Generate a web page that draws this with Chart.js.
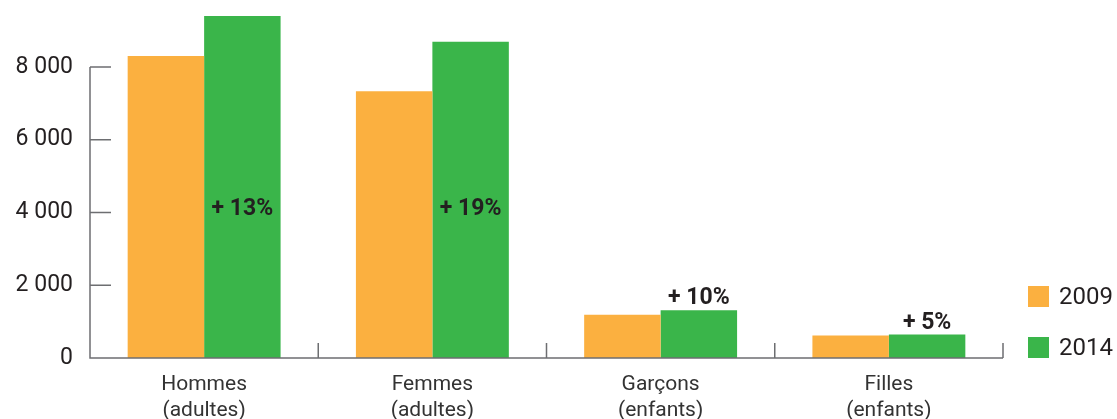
<!DOCTYPE html>
<html>
<head>
<meta charset="utf-8">
<script src="https://cdn.jsdelivr.net/npm/chart.js@4"></script>
<style>
  html, body { margin: 0; padding: 0; background: #fff; }
  #wrap { width: 1117px; height: 419px; }
</style>
</head>
<body>
<div id="wrap"><canvas id="myChart"></canvas></div>
<script>
var categories = [["Hommes", "(adultes)"], ["Femmes", "(adultes)"], ["Garçons", "(enfants)"], ["Filles", "(enfants)"]];
var years = ["2009", "2014"];
var v2009 = [8300, 7330, 1190, 615];
var v2014 = [9400, 8690, 1310, 645];
var changes = ["+ 13%", "+ 19%", "+ 10%", "+ 5%"];
var yTicks = [0, 2000, 4000, 6000, 8000];

var orange = "#fbb040";
var green = "#3ab54a";
var axisGrey = "#6d6e71";
var ink = "#231f20";

// axis lines with inward ticks, boundary ticks on x
var axesPlugin = {
  id: "axes",
  afterDatasetsDraw: function (chart) {
    var c = chart.ctx, x = chart.scales.x, y = chart.scales.y;
    var left = chart.chartArea.left, right = chart.chartArea.right;
    var y0 = y.getPixelForValue(0);
    var step = x.getPixelForValue(1) - x.getPixelForValue(0);
    c.save();
    c.strokeStyle = axisGrey;
    c.lineWidth = 1.5;
    c.beginPath();
    c.moveTo(left, y.getPixelForValue(8000));
    c.lineTo(left, y0);
    c.lineTo(right, y0);
    yTicks.forEach(function (t) {
      var p = y.getPixelForValue(t);
      c.moveTo(left, p);
      c.lineTo(left + 21, p);
    });
    for (var i = 0; i < categories.length; i++) {
      var bx = x.getPixelForValue(i) + step / 2;
      c.moveTo(bx, y0);
      c.lineTo(bx, y0 - 15);
    }
    c.stroke();
    c.restore();
  }
};

// percentage change over the 2014 bars
var changePlugin = {
  id: "changes",
  afterDatasetsDraw: function (chart) {
    var c = chart.ctx, y = chart.scales.y;
    var meta = chart.getDatasetMeta(1);
    c.save();
    c.font = "bold 23px Roboto";
    c.fillStyle = ink;
    c.textAlign = "center";
    meta.data.forEach(function (bar, i) {
      if (v2014[i] > 4000) {
        c.textBaseline = "middle";
        c.fillText(changes[i], bar.x, y.getPixelForValue(4100));
      } else {
        c.textBaseline = "alphabetic";
        c.fillText(changes[i], bar.x, bar.y - 6);
      }
    });
    c.restore();
  }
};

// legend squares, bottom right
var legendPlugin = {
  id: "sideLegend",
  afterDraw: function (chart) {
    var c = chart.ctx;
    var colors = [orange, green];
    var rows = [297, 348];
    c.save();
    c.font = "24px Roboto";
    c.textBaseline = "middle";
    c.textAlign = "left";
    years.forEach(function (yr, i) {
      c.fillStyle = colors[i];
      c.fillRect(1028, rows[i] - 11, 21, 21);
      c.fillStyle = ink;
      c.fillText(yr, 1059, rows[i] + 1);
    });
    c.restore();
  }
};

var ctx = document.getElementById("myChart");
var myChart = new Chart(ctx, {
  type: "bar",
  data: {
    labels: categories,
    datasets: [
      { label: years[0], data: v2009, backgroundColor: orange },
      { label: years[1], data: v2014, backgroundColor: green }
    ]
  },
  options: {
    responsive: true,
    maintainAspectRatio: false,
    animation: false,
    categoryPercentage: 0.67,
    barPercentage: 1.0,
    layout: { padding: { left: 0, right: 114, top: 16, bottom: 0 } },
    plugins: {
      legend: { display: false },
      tooltip: { enabled: false }
    },
    scales: {
      x: {
        grid: { display: false },
        border: { display: false },
        afterFit: function (scale) { scale.height = 61; },
        ticks: {
          color: "#333",
          font: { family: "Roboto", size: 21, lineHeight: "26px" },
          padding: 6
        }
      },
      y: {
        min: 0,
        max: 9400,
        grid: { display: false },
        border: { display: false },
        afterBuildTicks: function (scale) {
          scale.ticks = yTicks.map(function (v) { return { value: v }; });
        },
        afterFit: function (scale) {
          scale.width = 90;
          scale.paddingTop = 0;
          scale.paddingBottom = 0;
        },
        ticks: {
          color: ink,
          padding: 9,
          font: { family: "Roboto", size: 23 },
          callback: function (v) { return v === 0 ? "0" : (v / 1000) + " 000"; }
        }
      }
    }
  },
  plugins: [axesPlugin, changePlugin, legendPlugin]
});
</script>
</body>
</html>
